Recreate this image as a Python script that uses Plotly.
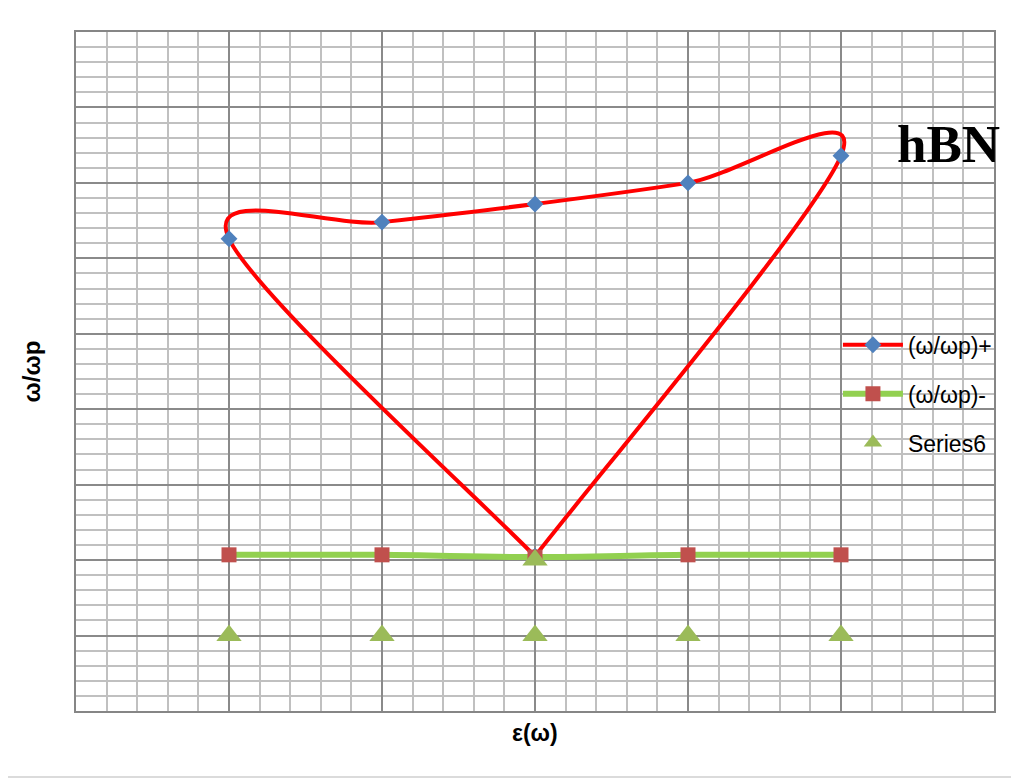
import plotly.graph_objects as go

# ---- data ----
# (ω/ωp)+ : the series starts and ends at the bottom of the V
eps_plus = [3, 1, 2, 3, 4, 5, 3]
w_plus = [2.05, 6.26, 6.48, 6.72, 7.00, 7.36, 2.05]

eps_minus = [1, 2, 3, 4, 5]
w_minus = [2.07, 2.07, 2.04, 2.07, 2.07]

eps_s6 = [1, 2, 3, 4, 5, 3]
w_s6 = [1.0, 1.0, 1.0, 1.0, 1.0, 2.0]

names = ["(ω/ωp)+", "(ω/ωp)-", "Series6"]

RED, BLUE, GREEN, SQ, TRI = "#FF0000", "#4F81BD", "#92D050", "#C0504D", "#9BBB59"


def smooth_path(xs, ys):
    """Excel-style smoothed line: cubic Bezier segments (uniform Catmull-Rom
    control points) written as an SVG path in data units."""
    n = len(xs)
    px = [xs[0]] + list(xs) + [xs[-1]]
    py = [ys[0]] + list(ys) + [ys[-1]]
    d = f"M{xs[0]},{ys[0]}"
    for i in range(1, n):
        c1x = px[i] + (px[i + 1] - px[i - 1]) / 6
        c1y = py[i] + (py[i + 1] - py[i - 1]) / 6
        c2x = px[i + 1] - (px[i + 2] - px[i]) / 6
        c2y = py[i + 1] - (py[i + 2] - py[i]) / 6
        d += f" C{c1x},{c1y} {c2x},{c2y} {px[i + 1]},{py[i + 1]}"
    return d


fig = go.Figure()
# legend entry for (ω/ωp)+ (line + diamond)
fig.add_trace(go.Scatter(
    x=[None], y=[None], name=names[0], mode="lines+markers",
    line=dict(color=RED, width=4),
    marker=dict(symbol="diamond", size=13, color=BLUE),
    legendgroup="a"))
# diamonds of (ω/ωp)+
fig.add_trace(go.Scatter(
    x=eps_plus, y=w_plus, name=names[0], mode="markers",
    marker=dict(symbol="diamond", size=13, color=BLUE),
    legendgroup="a", showlegend=False))
fig.add_trace(go.Scatter(
    x=eps_minus, y=w_minus, name=names[1], mode="lines+markers",
    line=dict(color=GREEN, width=6, shape="spline", smoothing=1.0),
    marker=dict(symbol="square", size=15, color=SQ),
    legendgroup="b"))
fig.add_trace(go.Scatter(
    x=eps_s6, y=w_s6, name=names[2], mode="markers",
    marker=dict(symbol="triangle-up", size=22, color=TRI),
    legendgroup="c"))

axis_common = dict(
    showticklabels=False, ticks="", zeroline=False,
    showline=True, linecolor="#868686", linewidth=1.6, mirror=True,
    showgrid=True, gridcolor="#8a8a8a", gridwidth=1.6,
)
minor_grid = dict(dtick=0.2, tick0=0, showgrid=True, gridcolor="#c0c0c0", gridwidth=1.6)
fig.update_xaxes(range=[0, 6], dtick=1, tick0=0, minor=minor_grid, **axis_common)
fig.update_yaxes(range=[0, 9], dtick=1, tick0=0, minor=minor_grid, **axis_common)

fig.update_layout(
    width=1019, height=780,
    margin=dict(l=68, r=33, t=24, b=77),
    paper_bgcolor="white", plot_bgcolor="white",
    font=dict(family="Liberation Sans, Arial, sans-serif", color="#000000"),
    showlegend=True,
    legend=dict(x=0.830, y=0.571, xanchor="left", yanchor="top",
                bgcolor="rgba(0,0,0,0)", font=dict(size=23, color="#000000"),
                tracegroupgap=16, itemwidth=60),
    annotations=[
        dict(text="<b>ε(ω)</b>", x=0.5, y=-0.0324, xref="paper", yref="paper",
             showarrow=False, xanchor="center", yanchor="middle",
             font=dict(size=23, family="Liberation Sans, Arial, sans-serif")),
        dict(text="<b>ω/ωp</b>", x=-0.049, y=0.5, xref="paper", yref="paper",
             showarrow=False, xanchor="center", yanchor="middle", textangle=-90,
             font=dict(size=24, family="Liberation Sans, Arial, sans-serif")),
        dict(text="<b>hBN</b>", x=0.95, y=0.835, xref="paper", yref="paper",
             showarrow=False, xanchor="center", yanchor="middle",
             font=dict(size=53, family="Liberation Serif, Times New Roman, serif")),
    ],
    shapes=[
        dict(type="rect", xref="paper", yref="paper",
             x0=-0.078, x1=1.0235, y0=-0.0972, y1=1.0385,
             line=dict(color="#d0d0d0", width=1.5), fillcolor="rgba(0,0,0,0)", layer="below"),
        dict(type="path", xref="x", yref="y", path=smooth_path(eps_plus, w_plus),
             line=dict(color=RED, width=4), fillcolor="rgba(0,0,0,0)", layer="between"),
    ],
)

fig.write_html("out.html")
